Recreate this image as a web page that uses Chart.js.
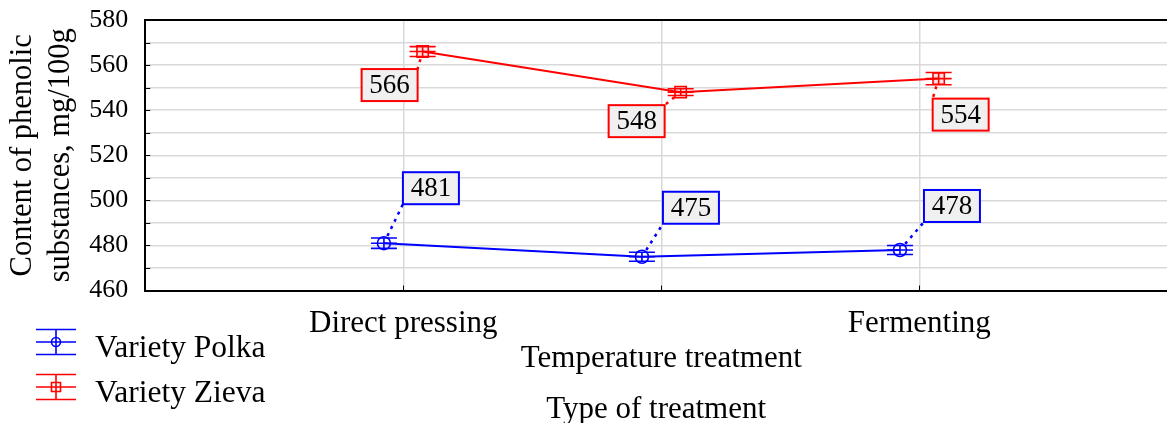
<!DOCTYPE html>
<html>
<head>
<meta charset="utf-8">
<script src="https://cdn.jsdelivr.net/npm/chart.js@4.4.1/dist/chart.umd.min.js"></script>
<style>
  html, body { margin: 0; padding: 0; background: #fff; overflow: hidden; }
  #wrap { width: 1167px; height: 423px; position: relative; }
</style>
</head>
<body>
<div id="wrap"><canvas id="c"></canvas></div>
<script>
// ---- data ----
const categories = ['Direct pressing', 'Temperature treatment', 'Fermenting'];
const seriesNames = ['Variety Polka', 'Variety Zieva'];
const polkaValues = [481, 475, 478];
const zievaValues = [566, 548, 554];
const polkaErrors = [2.3, 2.0, 2.0];
const zievaErrors = [2.2, 1.5, 2.7];
const yMin = 460, yMax = 580, yStep = 10, yLabelStep = 20;
const xAxisTitle = 'Type of treatment';
const yAxisTitle = ['Content of phenolic', 'substances, mg/100g'];

// ---- layout / style (not data) ----
const FONT = "'Liberation Serif', 'Times New Roman', serif";
const BLUE = '#0000ff', RED = '#ff0000';
const seriesShift = [-0.075, 0.075];
// label box offsets (px) from the point
const polkaLabelOffsets = [[47, -55], [49, -49], [52, -44]];
const zievaLabelOffsets = [[-33, 33.5], [-44, 29], [22, 36]];

const toPoints = (vals, shift) => vals.map((v, i) => ({ x: i + shift, y: v }));

const errorBarPlugin = {
  id: 'errorBars',
  afterDatasetsDraw(chart) {
    const ctx = chart.ctx;
    const xs = chart.scales.x, ys = chart.scales.y;
    chart.data.datasets.forEach((ds, di) => {
      ctx.save();
      ctx.strokeStyle = ds.borderColor;
      ctx.lineWidth = 1.6;
      ds.data.forEach((p, i) => {
        const e = ds.errors[i];
        const x = xs.getPixelForValue(p.x);
        const yt = ys.getPixelForValue(p.y + e);
        const yb = ys.getPixelForValue(p.y - e);
        const ym = ys.getPixelForValue(p.y);
        const hw = 13;
        ctx.beginPath();
        ctx.moveTo(x, yt); ctx.lineTo(x, yb);
        ctx.moveTo(x - hw, yt); ctx.lineTo(x + hw, yt);
        ctx.moveTo(x - hw, yb); ctx.lineTo(x + hw, yb);
        ctx.moveTo(x - hw, ym); ctx.lineTo(x + hw, ym);
        ctx.stroke();
      });
      ctx.restore();
    });
  }
};

const labelPlugin = {
  id: 'valueLabels',
  afterDatasetsDraw(chart) {
    const ctx = chart.ctx;
    const xs = chart.scales.x, ys = chart.scales.y;
    const bw = 56, bh = 32;
    chart.data.datasets.forEach((ds, di) => {
      ds.data.forEach((p, i) => {
        const px = xs.getPixelForValue(p.x);
        const py = ys.getPixelForValue(p.y);
        const [dx, dy] = ds.labelOffsets[i];
        const cx = px + dx, cy = py + dy;
        const left = cx - bw / 2, top = cy - bh / 2;
        const corners = [[left, top], [left + bw, top], [left, top + bh], [left + bw, top + bh]];
        let best = corners[0], bd = Infinity;
        corners.forEach(c => { const d = Math.hypot(c[0] - px, c[1] - py); if (d < bd) { bd = d; best = c; } });
        const ang = Math.atan2(best[1] - py, best[0] - px);
        const sx = px + Math.cos(ang) * 8, sy = py + Math.sin(ang) * 8;
        ctx.save();
        ctx.strokeStyle = ds.borderColor;
        ctx.lineWidth = 2.5;
        ctx.setLineDash([3, 5]);
        ctx.beginPath();
        ctx.moveTo(sx, sy); ctx.lineTo(best[0], best[1]);
        ctx.stroke();
        ctx.setLineDash([]);
        ctx.fillStyle = '#f0f0f0';
        ctx.fillRect(left, top, bw, bh);
        ctx.lineWidth = 2;
        ctx.strokeRect(left, top, bw, bh);
        ctx.fillStyle = '#000';
        ctx.font = '27px ' + FONT;
        ctx.textAlign = 'center';
        ctx.textBaseline = 'middle';
        ctx.fillText(String(p.y), cx, cy + 1);
        ctx.restore();
      });
    });
  }
};

const framePlugin = {
  id: 'frame',
  afterDraw(chart) {
    const ctx = chart.ctx;
    const a = chart.chartArea;
    const xs = chart.scales.x, ys = chart.scales.y;
    ctx.save();
    ctx.strokeStyle = '#000';
    ctx.lineWidth = 1;
    ctx.beginPath();
    for (let v = yMin + yStep; v < yMax; v += yStep) {
      const y = Math.round(ys.getPixelForValue(v)) + 0.5;
      ctx.moveTo(a.left, y); ctx.lineTo(a.left + 5, y);
    }
    categories.forEach((c, i) => {
      const x = Math.round(xs.getPixelForValue(i)) + 0.5;
      ctx.moveTo(x, a.bottom); ctx.lineTo(x, a.bottom - 5);
    });
    ctx.stroke();
    ctx.lineWidth = 2;
    ctx.beginPath();
    ctx.moveTo(a.left - 1, a.top); ctx.lineTo(a.right, a.top);
    ctx.stroke();
    ctx.restore();

    // legend
    ctx.save();
    const rows = [342, 387];
    chart.data.datasets.forEach((ds, di) => {
      const cy = rows[di];
      const x0 = 36, x1 = 76, xm = 56;
      ctx.strokeStyle = ds.borderColor;
      ctx.lineWidth = 1.6;
      ctx.beginPath();
      [-12.5, 0, 12.5].forEach(o => { ctx.moveTo(x0, cy + o); ctx.lineTo(x1, cy + o); });
      ctx.moveTo(xm, cy - 12.5); ctx.lineTo(xm, cy + 12.5);
      ctx.stroke();
      ctx.beginPath();
      if (ds.pointStyle === 'circle') {
        ctx.arc(xm, cy, 4.5, 0, Math.PI * 2);
      } else {
        ctx.rect(xm - 4.5, cy - 4.5, 9, 9);
      }
      ctx.stroke();
      ctx.fillStyle = '#000';
      ctx.font = '31.5px ' + FONT;
      ctx.textAlign = 'left';
      ctx.textBaseline = 'middle';
      ctx.fillText(ds.label, 95, cy + 7);
    });
    ctx.restore();
  }
};

new Chart(document.getElementById('c'), {
  type: 'line',
  data: {
    datasets: [
      {
        label: seriesNames[0],
        data: toPoints(polkaValues, seriesShift[0]),
        errors: polkaErrors,
        labelOffsets: polkaLabelOffsets,
        borderColor: BLUE,
        backgroundColor: 'rgba(0,0,0,0)',
        borderWidth: 2,
        pointStyle: 'circle',
        pointRadius: 6.5,
        pointBorderWidth: 1.6,
        pointBorderColor: BLUE,
        pointBackgroundColor: 'rgba(0,0,0,0)',
        tension: 0
      },
      {
        label: seriesNames[1],
        data: toPoints(zievaValues, seriesShift[1]),
        errors: zievaErrors,
        labelOffsets: zievaLabelOffsets,
        borderColor: RED,
        backgroundColor: 'rgba(0,0,0,0)',
        borderWidth: 2,
        pointStyle: 'rect',
        pointRadius: 8,
        pointBorderWidth: 1.6,
        pointBorderColor: RED,
        pointBackgroundColor: 'rgba(255,0,0,0.12)',
        tension: 0
      }
    ]
  },
  options: {
    responsive: true,
    maintainAspectRatio: false,
    animation: false,
    events: [],
    layout: { autoPadding: false, padding: { top: 20, left: 4, right: 0, bottom: -2 } },
    plugins: { legend: { display: false }, tooltip: { enabled: false } },
    scales: {
      x: {
        type: 'linear',
        min: -1,
        max: 2.96,
        afterBuildTicks: s => { s.ticks = categories.map((c, i) => ({ value: i })); },
        ticks: {
          autoSkip: false,
          maxRotation: 0,
          padding: 16,
          color: '#000',
          font: { family: FONT, size: 31, lineHeight: 1.12 },
          callback: v => (v === 1 ? ['', categories[v]] : categories[v])
        },
        grid: { color: '#d9d9d9', lineWidth: 1.5, drawTicks: false },
        border: { display: true, color: '#000', width: 2 },
        title: {
          display: true,
          text: xAxisTitle,
          color: '#000',
          font: { family: FONT, size: 31, lineHeight: 1.0 },
          padding: { top: 2, bottom: 0 }
        }
      },
      y: {
        min: yMin,
        max: yMax,
        ticks: {
          stepSize: yStep,
          padding: 17,
          color: '#000',
          font: { family: FONT, size: 26, lineHeight: 0.1 },
          callback: v => (v % yLabelStep === 0 ? String(v) : '')
        },
        grid: { color: '#d9d9d9', lineWidth: 1.5, drawTicks: false },
        border: { display: true, color: '#000', width: 2 },
        title: {
          display: true,
          text: yAxisTitle,
          color: '#000',
          font: { family: FONT, size: 30.5, lineHeight: 1.25 },
          padding: { top: 0, bottom: -8 }
        }
      }
    }
  },
  plugins: [errorBarPlugin, labelPlugin, framePlugin]
});
</script>
</body>
</html>
